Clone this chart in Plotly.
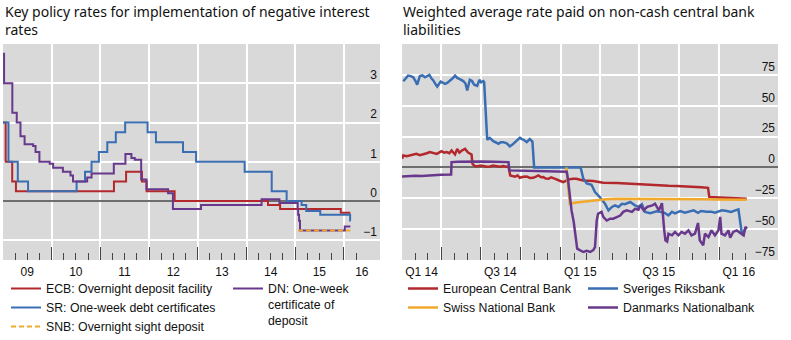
import plotly.graph_objects as go

# ---------------- Left panel: key policy rates, per cent (step series) ----------------
ecb_dates = ["2009-01-01", "2009-01-21", "2009-03-11", "2009-04-08", "2011-04-13", "2011-07-13",
             "2011-11-09", "2011-12-14", "2012-07-11", "2014-06-11", "2014-09-10", "2015-12-09",
             "2016-02-19"]
ecb_rates = [2.00, 1.00, 0.50, 0.25, 0.50, 0.75, 0.50, 0.25, 0.00, -0.10, -0.20, -0.30, -0.30]

sr_dates = ["2009-01-01", "2009-02-11", "2009-04-22", "2009-07-08", "2010-07-07", "2010-09-08",
            "2010-10-27", "2010-12-21", "2011-02-22", "2011-04-27", "2011-07-06", "2011-12-21",
            "2012-02-22", "2012-09-12", "2012-12-19", "2013-12-18", "2014-07-09", "2014-10-29",
            "2015-02-18", "2015-03-25", "2015-07-08", "2016-02-17", "2016-02-19"]
sr_rates = [2.00, 1.00, 0.50, 0.25, 0.50, 0.75, 1.00, 1.25, 1.50, 1.75, 2.00, 1.75, 1.50, 1.25,
            1.00, 0.75, 0.25, 0.00, -0.10, -0.25, -0.35, -0.50, -0.50]

snb_dates = ["2015-01-22", "2016-02-19"]
snb_rates = [-0.75, -0.75]

dn_dates = ["2009-01-01", "2009-01-09", "2009-03-12", "2009-04-14", "2009-05-12", "2009-06-12",
            "2009-08-15", "2009-09-02", "2009-10-01", "2009-12-17", "2010-01-12", "2010-03-26",
            "2010-05-22", "2010-06-10", "2010-09-24", "2010-10-27", "2011-04-12", "2011-07-08",
            "2011-08-22", "2011-09-16", "2011-11-03", "2011-12-13", "2012-05-23", "2012-06-28",
            "2013-01-25", "2014-04-24", "2014-09-05", "2015-01-20", "2015-01-23", "2015-01-30",
            "2015-02-06", "2016-01-08", "2016-02-19"]
dn_rates = [3.75, 3.00, 2.25, 2.00, 1.65, 1.45, 1.40, 1.25, 1.00, 0.95, 0.85, 0.75, 0.65, 0.50,
            0.60, 0.70, 0.95, 1.20, 1.10, 1.05, 0.55, 0.30, 0.20, -0.20, -0.10, 0.05, -0.05,
            -0.20, -0.35, -0.50, -0.75, -0.65, -0.65]

left_ticks = ["2009-07-01", "2010-07-01", "2011-07-01", "2012-07-01", "2013-07-01",
              "2014-07-01", "2015-07-01", "2016-05-15"]
left_labels = ["09", "10", "11", "12", "13", "14", "15", "16"]

# ---------------- Right panel: weighted average rate, basis points ----------------
ecb_w_dates = ["2014-01-01", "2014-01-04", "2014-01-12", "2014-01-19", "2014-01-27", "2014-02-03",
               "2014-02-11", "2014-02-19", "2014-02-27", "2014-03-06", "2014-03-14", "2014-03-22",
               "2014-04-02", "2014-04-08", "2014-04-14", "2014-04-20", "2014-04-25", "2014-05-03",
               "2014-05-08", "2014-05-13", "2014-05-18", "2014-05-26", "2014-06-02", "2014-06-10",
               "2014-06-12", "2014-06-16", "2014-06-22", "2014-07-01", "2014-07-07", "2014-07-15",
               "2014-07-22", "2014-07-30", "2014-08-07", "2014-08-15", "2014-08-22", "2014-08-29",
               "2014-09-03", "2014-09-07", "2014-09-12", "2014-09-18", "2014-09-24", "2014-09-29",
               "2014-10-07", "2014-10-15", "2014-10-22", "2014-10-30", "2014-11-05", "2014-11-11",
               "2014-11-17", "2014-11-22", "2014-11-28", "2014-12-04", "2014-12-10", "2014-12-15",
               "2014-12-21", "2014-12-27", "2015-01-02", "2015-01-07", "2015-01-15", "2015-01-22",
               "2015-01-30", "2015-02-06", "2015-02-15", "2015-02-22", "2015-03-17", "2015-04-09",
               "2015-05-10", "2015-06-10", "2015-07-11", "2015-08-10", "2015-09-06", "2015-09-25",
               "2015-10-15", "2015-11-03", "2015-11-20", "2015-12-06", "2015-12-09", "2015-12-20",
               "2016-01-18", "2016-02-10", "2016-03-04"]
ecb_w = [7.0, 9.7, 9.0, 9.5, 10.5, 11.0, 10.0, 10.5, 11.5, 12.4, 11.5, 11.0,
         13.2, 12.0, 12.5, 11.5, 13.7, 10.5, 15.0, 12.0, 13.5, 15.0, 12.0, 10.5,
         3.0, 1.5, 0.8, 1.5, 1.2, 0.5, 0.8, 1.5, 1.0, 0.5, 1.2, 0.6,
         0.8, -6.5, -7.0, -7.5, -6.5, -8.4, -7.5, -7.3, -8.5, -8.4, -7.5, -6.5,
         -8.0, -7.8, -9.0, -9.2, -8.0, -8.5, -9.5, -10.4, -11.0, -11.9, -10.5, -9.5,
         -9.2, -9.2, -10.0, -10.5, -11.0, -12.4, -12.6, -13.3, -13.8, -14.6, -14.8, -15.0,
         -15.2, -15.4, -16.0, -16.5, -24.0, -24.2, -24.5, -25.0, -25.3]

srb_w_dates = ["2014-01-04", "2014-01-10", "2014-01-15", "2014-01-21", "2014-01-27", "2014-02-01",
               "2014-02-05", "2014-02-11", "2014-02-17", "2014-02-23", "2014-03-01", "2014-03-05",
               "2014-03-10", "2014-03-14", "2014-03-19", "2014-03-23", "2014-03-31", "2014-04-05",
               "2014-04-10", "2014-04-15", "2014-04-21", "2014-04-27", "2014-05-03", "2014-05-08",
               "2014-05-14", "2014-05-22", "2014-05-27", "2014-05-31", "2014-06-06", "2014-06-11",
               "2014-06-16", "2014-06-23", "2014-06-28", "2014-07-02", "2014-07-07", "2014-07-09",
               "2014-07-16", "2014-07-22", "2014-07-30", "2014-08-05", "2014-08-11", "2014-08-16",
               "2014-08-22", "2014-08-30", "2014-09-06", "2014-09-12", "2014-09-18", "2014-09-24",
               "2014-09-29", "2014-10-04", "2014-10-08", "2014-10-15", "2014-10-22", "2014-10-28",
               "2014-11-01", "2015-02-16", "2015-02-22", "2015-03-02", "2015-03-13", "2015-03-21",
               "2015-04-01", "2015-04-13", "2015-04-21", "2015-04-29", "2015-05-06", "2015-05-14",
               "2015-05-22", "2015-05-29", "2015-06-10", "2015-06-21", "2015-06-29", "2015-07-07",
               "2015-07-14", "2015-07-26", "2015-08-10", "2015-08-18", "2015-08-26", "2015-09-06",
               "2015-09-14", "2015-09-21", "2015-10-03", "2015-10-14", "2015-10-22", "2015-11-03",
               "2015-11-13", "2015-11-20", "2015-12-03", "2015-12-14", "2015-12-22", "2016-01-07",
               "2016-01-18", "2016-01-28", "2016-02-07", "2016-02-14", "2016-02-18", "2016-02-22",
               "2016-02-26", "2016-03-01"]
srb_w = [69.8, 72.0, 74.4, 74.0, 73.0, 70.0, 67.0, 74.0, 74.5, 73.0, 74.0, 75.0,
         72.0, 70.5, 67.5, 65.5, 69.6, 68.5, 67.7, 68.5, 70.0, 72.0, 74.4, 72.5,
         71.5, 70.0, 68.0, 62.3, 71.0, 70.0, 67.0, 66.0, 71.0, 69.0, 70.0, 69.0,
         22.4, 24.0, 21.3, 20.0, 19.2, 20.5, 20.5, 19.5, 17.0, 18.5, 20.5, 22.5,
         24.0, 23.0, 22.4, 20.5, 23.0, 21.0, 0.0, 0.0, -9.0, -13.0, -14.0, -20.0,
         -24.0, -29.4, -34.8, -32.0, -30.7, -32.0, -29.4, -29.8, -28.0, -30.7, -32.0, -29.8,
         -36.0, -37.0, -35.5, -36.0, -36.5, -38.8, -36.0, -37.2, -35.3, -36.7, -36.0, -34.8,
         -36.7, -35.3, -36.0, -36.0, -36.7, -34.8, -35.3, -36.0, -34.8, -34.0, -44.0, -53.7,
         -52.5, -49.6]

snb_w_dates = ["2015-01-14", "2015-01-22", "2015-02-06", "2015-03-01", "2015-03-25", "2015-04-15",
               "2015-05-10", "2015-06-10", "2015-07-11", "2015-08-10", "2015-09-06", "2015-10-15",
               "2015-11-20", "2015-12-20", "2016-01-20", "2016-03-04"]
snb_w = [0.0, -29.5, -28.5, -27.5, -26.7, -25.8, -25.3, -25.3, -25.3, -25.6, -25.6, -25.8,
         -25.8, -26.0, -26.0, -26.2]

dn_w_dates = ["2014-01-01", "2014-01-15", "2014-02-01", "2014-02-15", "2014-03-01", "2014-03-15",
              "2014-04-01", "2014-04-24", "2014-04-25", "2014-05-10", "2014-06-01", "2014-07-01",
              "2014-08-01", "2014-09-03", "2014-09-05", "2014-10-01", "2014-11-01", "2014-12-01",
              "2015-01-01", "2015-01-15", "2015-01-18", "2015-01-26", "2015-01-31", "2015-02-05",
              "2015-02-08", "2015-02-14", "2015-02-22", "2015-03-02", "2015-03-10", "2015-03-17",
              "2015-03-21", "2015-03-25", "2015-03-28", "2015-04-05", "2015-04-09", "2015-04-17",
              "2015-04-25", "2015-05-02", "2015-05-10", "2015-05-18", "2015-05-25", "2015-06-02",
              "2015-06-14", "2015-06-21", "2015-06-29", "2015-07-03", "2015-07-11", "2015-07-19",
              "2015-07-31", "2015-08-06", "2015-08-15", "2015-08-19", "2015-08-22", "2015-08-27",
              "2015-08-30", "2015-09-03", "2015-09-06", "2015-09-14", "2015-09-21", "2015-09-29",
              "2015-10-06", "2015-10-14", "2015-10-22", "2015-10-29", "2015-11-06", "2015-11-13",
              "2015-11-17", "2015-11-25", "2015-11-29", "2015-12-07", "2015-12-14", "2015-12-22",
              "2015-12-30", "2016-01-03", "2016-01-06", "2016-01-14", "2016-01-22", "2016-01-26",
              "2016-02-02", "2016-02-10", "2016-02-18", "2016-02-26", "2016-03-01", "2016-03-05"]
dn_w = [-7.3, -7.0, -6.8, -7.0, -6.5, -6.3, -6.0, -5.7, 4.3, 4.6, 4.8, 4.8,
        4.6, 4.3, -2.4, -2.6, -2.8, -3.2, -3.4, -3.5, -10.0, -34.8, -44.0, -56.0,
        -65.8, -67.0, -68.5, -67.5, -68.5, -67.0, -64.5, -43.0, -37.5, -36.0, -40.0, -43.0,
        -41.5, -41.5, -40.0, -39.0, -36.0, -34.8, -36.0, -33.5, -34.3, -30.7, -34.8, -32.0,
        -30.7, -29.4, -34.8, -30.7, -29.0, -50.0, -59.0, -60.0, -53.7, -55.0, -52.3, -55.0,
        -52.3, -53.7, -51.0, -55.0, -53.7, -45.0, -59.0, -63.0, -53.7, -56.5, -51.0, -55.0,
        -51.0, -40.0, -53.7, -55.0, -51.0, -57.0, -52.3, -51.0, -53.0, -55.0, -48.3, -49.6]

right_ticks = ["2014-02-15", "2014-08-15", "2015-02-15", "2015-08-15", "2016-02-15"]
right_labels = ["Q1 14", "Q3 14", "Q1 15", "Q3 15", "Q1 16"]

# ---------------- styling ----------------
RED = "rgb(178,40,44)"
BLUE = "rgb(58,110,178)"
ORANGE = "rgb(240,168,45)"
PURPLE = "rgb(104,56,140)"
PANEL = "rgb(217,217,217)"
TICK = "rgb(70,70,70)"
ZERO = "rgb(110,110,110)"
SANS = "Liberation Sans, Arial, sans-serif"
TITLE_FONT = "Noto Sans, Open Sans, sans-serif"

W, H = 791, 340
ML, MR, MT, MB = 3, 13, 44, 80
PW = W - ML - MR
PH = H - MT - MB


def px_x(p):
    return (p - ML) / PW


def px_y(p):
    return (H - MB - p) / PH


fig = go.Figure()

# left panel traces
fig.add_trace(go.Scatter(x=ecb_dates, y=ecb_rates, mode="lines", line=dict(color=RED, width=2, shape="hv"),
                         name="ECB: Overnight deposit facility", xaxis="x", yaxis="y", legend="legend"))
fig.add_trace(go.Scatter(x=sr_dates, y=sr_rates, mode="lines", line=dict(color=BLUE, width=2, shape="hv"),
                         name="SR: One-week debt certificates", xaxis="x", yaxis="y", legend="legend"))
fig.add_trace(go.Scatter(x=dn_dates, y=dn_rates, mode="lines", line=dict(color=PURPLE, width=2, shape="hv"),
                         name="DN: One-week<br>certificate of<br>deposit", xaxis="x", yaxis="y", legend="legend2"))
fig.add_trace(go.Scatter(x=snb_dates, y=snb_rates, mode="lines",
                         line=dict(color=ORANGE, width=2, shape="hv", dash="5px,3px"),
                         name="SNB: Overnight sight deposit", xaxis="x", yaxis="y", legend="legend"))

# right panel traces
fig.add_trace(go.Scatter(x=ecb_w_dates, y=ecb_w, mode="lines", line=dict(color=RED, width=2.5),
                         name="European Central Bank", xaxis="x2", yaxis="y2", legend="legend3"))
fig.add_trace(go.Scatter(x=srb_w_dates, y=srb_w, mode="lines", line=dict(color=BLUE, width=2.5),
                         name="Sveriges Riksbank", xaxis="x2", yaxis="y2", legend="legend4"))
fig.add_trace(go.Scatter(x=snb_w_dates, y=snb_w, mode="lines", line=dict(color=ORANGE, width=2.5),
                         name="Swiss National Bank", xaxis="x2", yaxis="y2", legend="legend3"))
fig.add_trace(go.Scatter(x=dn_w_dates, y=dn_w, mode="lines", line=dict(color=PURPLE, width=2.5),
                         name="Danmarks Nationalbank", xaxis="x2", yaxis="y2", legend="legend4"))

# empty traces so the label-only overlay axes get drawn
fig.add_trace(go.Scatter(x=[], y=[], xaxis="x3", yaxis="y", showlegend=False, hoverinfo="skip"))
fig.add_trace(go.Scatter(x=[], y=[], xaxis="x4", yaxis="y2", showlegend=False, hoverinfo="skip"))

left_dom = [0, px_x(380)]
right_dom = [px_x(402), 1]

base_x = dict(type="date", ticks="inside", ticklen=13, tickwidth=1, tickcolor=TICK,
              showticklabels=False, showgrid=True, gridcolor="white", gridwidth=1.5,
              zeroline=False, showline=False, fixedrange=True)
label_x = dict(type="date", tickmode="array", ticks="", showgrid=False, zeroline=False,
               showline=False, ticklabelstandoff=3,
               tickfont=dict(family=SANS, size=12, color="#111"), fixedrange=True)
base_y = dict(side="right", ticks="", ticklabelposition="inside top", showgrid=True,
              gridcolor="white", gridwidth=1.5, zeroline=True, zerolinecolor=ZERO,
              zerolinewidth=2, showline=False, tickfont=dict(family=SANS, size=12, color="#111"),
              fixedrange=True)

fig.update_layout(
    width=W, height=H,
    margin=dict(l=ML, r=MR, t=MT, b=MB, autoexpand=False),
    paper_bgcolor="white", plot_bgcolor=PANEL,
    hovermode=False,
    font=dict(family=SANS, size=12, color="#111"),
    xaxis=dict(base_x, domain=left_dom, anchor="y", range=["2009-01-01", "2016-09-28"],
               tick0="2009-01-01", dtick="M12",
               minor=dict(tick0="2009-01-01", dtick="M3", ticks="inside", ticklen=7, tickwidth=1,
                          tickcolor=TICK, showgrid=False)),
    xaxis3=dict(label_x, overlaying="x", anchor="y", range=["2009-01-01", "2016-09-28"],
                tickvals=left_ticks, ticktext=left_labels),
    yaxis=dict(base_y, domain=[0, 1], anchor="x", range=[-1.5, 4], tickmode="array",
               tickvals=[-1, 0, 1, 2, 3]),
    xaxis2=dict(base_x, domain=right_dom, anchor="y2", range=["2014-01-01", "2016-05-15"],
                tick0="2014-01-01", dtick="M3",
                minor=dict(tick0="2014-01-01", dtick="M1", ticks="inside", ticklen=7, tickwidth=1,
                           tickcolor=TICK, showgrid=False)),
    xaxis4=dict(label_x, overlaying="x2", anchor="y2", range=["2014-01-01", "2016-05-15"],
                tickvals=right_ticks, ticktext=right_labels),
    yaxis2=dict(base_y, domain=[0, 1], anchor="x2", range=[-75, 100], tickmode="array",
                tickvals=[-75, -50, -25, 0, 25, 50, 75]),
)

legend_style = dict(font=dict(family=SANS, size=12.3, color="#111"), bgcolor="rgba(0,0,0,0)",
                    borderwidth=0, orientation="v", xanchor="left", yanchor="top",
                    tracegroupgap=0, itemclick=False, itemdoubleclick=False)
fig.update_layout(
    legend=dict(legend_style, x=px_x(6), y=px_y(274)),
    legend2=dict(legend_style, x=px_x(228), y=px_y(274), valign="top"),
    legend3=dict(legend_style, x=px_x(403), y=px_y(274)),
    legend4=dict(legend_style, x=px_x(583), y=px_y(274)),
)

# panel titles
fig.add_annotation(text="Key policy rates for implementation of negative interest<br>rates",
                   xref="paper", yref="paper", x=px_x(3), y=px_y(0), xanchor="left", yanchor="top",
                   align="left", showarrow=False,
                   font=dict(family=TITLE_FONT, size=14, color="#111"))
fig.add_annotation(text="Weighted average rate paid on non-cash central bank<br>liabilities",
                   xref="paper", yref="paper", x=px_x(401), y=px_y(0), xanchor="left", yanchor="top",
                   align="left", showarrow=False,
                   font=dict(family=TITLE_FONT, size=14, color="#111"))

fig.write_html("out.html")
